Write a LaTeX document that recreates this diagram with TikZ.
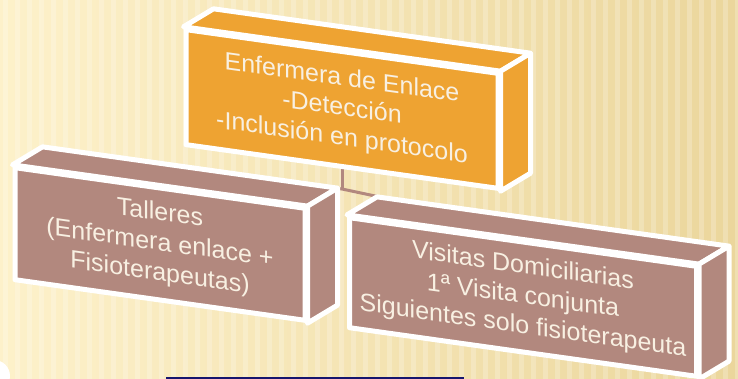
\documentclass[tikz,border=0pt]{standalone}
\usepackage{fontspec}
\setmainfont{Liberation Sans}
\usetikzlibrary{calc}
\definecolor{crema}{HTML}{FDF1CA}
\definecolor{cremaosc}{HTML}{EBD69C}
\definecolor{naranja}{HTML}{EEA332}
\definecolor{malva}{HTML}{B2887E}
\definecolor{letra}{HTML}{F8F0E2}
\definecolor{marino}{HTML}{15156E}
\pgfdeclarelayer{fondo}
\pgfdeclarelayer{lineas}
\pgfsetlayers{fondo,lineas,main}
\tikzset{
  caja/.style={draw=white, line width=5pt, line join=round, yslant=-0.14,
    align=center, text=letra, font=\fontsize{25}{30}\selectfont, inner sep=0pt},
  cara/.style={draw=white, line width=5pt, line join=round},
  conector/.style={draw=malva, line width=3pt},
}

\begin{document}
\begin{tikzpicture}[x=1pt,y=-1pt]
  \useasboundingbox (0,0) rectangle (738,379);

  \node[caja, fill=naranja, minimum width=312pt, minimum height=115pt] (enlace) at (342,109)
    {Enfermera de Enlace\\-Detección\\-Inclusión en protocolo};
  \node[caja, fill=malva, minimum width=290pt, minimum height=112pt] (talleres) at (160,244)
    {Talleres\\(Enfermera enlace +\\Fisioterapeutas)};
  \node[caja, fill=malva, minimum width=347pt, minimum height=110pt] (visitas) at (523,297)
    {Visitas Domiciliarias\\1ª Visita conjunta\\Siguientes solo fisioterapeuta};
  \coordinate (union) at (342,189);

  \draw[cara, fill=naranja] (enlace.north west) -- ++(30,-18) -- ($(enlace.north east)+(30,-18)$) -- (enlace.north east) -- cycle;
  \draw[cara, fill=naranja] (enlace.north east) -- ++(30,-18) -- ($(enlace.south east)+(30,-18)$) -- (enlace.south east) -- cycle;
  \draw[cara, fill=malva] (talleres.north west) -- ++(30,-18) -- ($(talleres.north east)+(30,-18)$) -- (talleres.north east) -- cycle;
  \draw[cara, fill=malva] (talleres.north east) -- ++(30,-18) -- ($(talleres.south east)+(30,-18)$) -- (talleres.south east) -- cycle;
  \draw[cara, fill=malva] (visitas.north west) -- ++(30,-18) -- ($(visitas.north east)+(30,-18)$) -- (visitas.north east) -- cycle;
  \draw[cara, fill=malva] (visitas.north east) -- ++(30,-18) -- ($(visitas.south east)+(30,-18)$) -- (visitas.south east) -- cycle;

  \begin{pgfonlayer}{lineas}
    \draw[conector] (enlace.center) -- (union);
    \draw[conector] (union) -- ($(talleres.north)+(15,-9)$);
    \draw[conector] (union) -- ($(visitas.north)+(15,-9)$);
  \end{pgfonlayer}

  \begin{pgfonlayer}{fondo}
    \shade[left color=crema, right color=cremaosc] (0,0) rectangle (738,379);
    \foreach \x in {3,15,...,735}
      \fill[white, opacity=0.22] (\x,0) rectangle ++(5,379);
    \fill[white] (-6,376) circle (16);
    \fill[marino] (166,377) rectangle (464,379);
  \end{pgfonlayer}
\end{tikzpicture}
\end{document}
